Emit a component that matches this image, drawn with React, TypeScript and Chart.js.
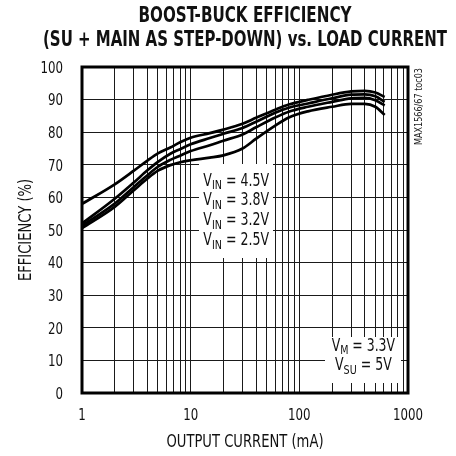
import React, { useEffect, useRef } from "react";
import { Chart, registerables } from "chart.js";

Chart.register(...registerables);

// ---- data ----
const CURRENT_MA = [1, 2, 3, 4, 5, 6.5, 8, 10, 15, 20, 30, 40, 60, 80, 120, 200, 300, 400, 500, 610];
const EFF_A = [58.0, 64.0, 68.2, 71.3, 73.5, 75.3, 76.9, 78.3, 79.7, 80.8, 82.6, 84.4, 86.9, 88.5, 89.9, 91.5, 92.5, 92.7, 92.2, 90.8];
const EFF_B = [52.0, 59.6, 64.6, 68.3, 70.9, 73.4, 74.8, 76.3, 78.2, 79.5, 81.3, 83.2, 86.0, 87.5, 88.8, 90.4, 91.5, 91.6, 91.0, 89.3];
const EFF_C = [51.3, 58.1, 63.2, 66.8, 69.4, 71.5, 72.8, 74.2, 76.0, 77.4, 79.3, 81.5, 84.5, 86.3, 87.8, 89.3, 90.4, 90.5, 89.8, 88.2];
const EFF_D = [50.6, 57.1, 62.2, 65.8, 68.2, 69.9, 70.8, 71.4, 72.2, 72.9, 75.0, 78.0, 82.0, 84.5, 86.4, 87.8, 88.7, 88.7, 87.8, 85.3];

const X_LABELS = [1, 10, 100, 1000];
const Y_TICKS = [0, 10, 20, 30, 40, 50, 60, 70, 80, 90, 100];
const VIN_VALUES = ["4.5V", "3.8V", "3.2V", "2.5V"];
const TITLE_LINES = ["BOOST-BUCK EFFICIENCY", "(SU + MAIN AS STEP-DOWN) vs. LOAD CURRENT"];
const X_TITLE = "OUTPUT CURRENT (mA)";
const Y_TITLE = "EFFICIENCY (%)";
const SIDE_NOTE = "MAX1566/67 toc03";

const NARROW = '"Liberation Sans Narrow", "Arial Narrow", "DejaVu Sans Condensed", sans-serif';
const INK = "#111";
const SQUEEZE = 0.82;

function fitText(ctx: CanvasRenderingContext2D, text: string, cx: number, baseline: number, width: number, font: string) {
  ctx.save();
  ctx.font = font;
  const w = ctx.measureText(text).width;
  ctx.translate(cx, baseline);
  ctx.scale(width / w, 1);
  ctx.textAlign = "center";
  ctx.textBaseline = "alphabetic";
  ctx.fillText(text, 0, 0);
  ctx.restore();
}

function squeezedText(ctx: CanvasRenderingContext2D, text: string, x: number, baseline: number, align: CanvasTextAlign, font: string, k: number) {
  ctx.save();
  ctx.font = font;
  ctx.translate(x, baseline);
  ctx.scale(k, 1);
  ctx.textAlign = align;
  ctx.textBaseline = "alphabetic";
  ctx.fillText(text, 0, 0);
  ctx.restore();
}

function drawSubLabel(ctx: CanvasRenderingContext2D, main: string, sub: string, rest: string, left: number, baseline: number, width: number) {
  const big = "17px " + NARROW;
  const small = "13px " + NARROW;
  ctx.save();
  ctx.font = big;
  const w1 = ctx.measureText(main).width;
  const w3 = ctx.measureText(rest).width;
  ctx.font = small;
  const w2 = ctx.measureText(sub).width;
  const total = w1 + w2 + w3;
  ctx.translate(left, baseline);
  ctx.scale(width / total, 1);
  ctx.textAlign = "left";
  ctx.textBaseline = "alphabetic";
  ctx.font = big;
  ctx.fillText(main, 0, 0);
  ctx.font = small;
  ctx.fillText(sub, w1, 3.5);
  ctx.font = big;
  ctx.fillText(rest, w1 + w2, 0);
  ctx.restore();
}

const overlayPlugin = {
  id: "overlay",
  afterDraw(chart: any) {
    const ctx: CanvasRenderingContext2D = chart.ctx;
    const { left, right, top, bottom } = chart.chartArea;
    const xs = chart.scales.x;
    const ys = chart.scales.y;
    ctx.save();
    ctx.fillStyle = INK;
    // title
    const cx = (left + right) / 2;
    fitText(ctx, TITLE_LINES[0], cx, 21.7, 213, "bold 21px " + NARROW);
    fitText(ctx, TITLE_LINES[1], cx, 45.5, 404, "bold 21px " + NARROW);

    // tick labels through the scales
    const tickFont = "16px " + NARROW;
    Y_TICKS.forEach((v) => {
      squeezedText(ctx, String(v), 63, ys.getPixelForValue(v) + 5.8, "right", tickFont, SQUEEZE);
    });
    X_LABELS.forEach((v) => {
      squeezedText(ctx, String(v), xs.getPixelForValue(v), 420, "center", tickFont, SQUEEZE);
    });

    // axis titles
    const titleFont = "17px " + NARROW;
    ctx.font = titleFont;
    const tk = 157 / ctx.measureText(X_TITLE).width;
    squeezedText(ctx, X_TITLE, cx, 447.3, "center", titleFont, tk);
    ctx.save();
    ctx.translate(31, (top + bottom) / 2);
    ctx.rotate(-Math.PI / 2);
    squeezedText(ctx, Y_TITLE, 0, 0, "center", titleFont, tk);
    ctx.restore();

    // VIN label box
    ctx.fillStyle = "#fff";
    ctx.fillRect(199, 164, 74, 94);
    ctx.fillStyle = INK;
    const baselines = [185.7, 205.2, 225, 245];
    VIN_VALUES.forEach((v, i) => {
      drawSubLabel(ctx, "V", "IN", " = " + v, 203.3, baselines[i], 65.7);
    });

    // VM / VSU box
    ctx.fillStyle = "#fff";
    ctx.fillRect(325, 337, 76, 46);
    ctx.fillStyle = INK;
    drawSubLabel(ctx, "V", "M", " = 3.3V", 331.7, 350.5, 63.3);
    drawSubLabel(ctx, "V", "SU", " = 5V", 335, 370, 56.7);

    // side note
    ctx.save();
    ctx.font = "11px " + NARROW;
    const sw = ctx.measureText(SIDE_NOTE).width;
    ctx.translate(422, 145);
    ctx.rotate(-Math.PI / 2);
    ctx.scale(77 / sw, 1);
    ctx.textAlign = "left";
    ctx.textBaseline = "alphabetic";
    ctx.fillStyle = "#222";
    ctx.fillText(SIDE_NOTE, 0, 0);
    ctx.restore();

    // frame
    ctx.strokeStyle = "#000";
    ctx.lineWidth = 3;
    ctx.strokeRect(left, top, right - left, bottom - top);
    ctx.restore();
  },
};

function makeDataset(data: number[]) {
  return {
    data: CURRENT_MA.map((x, i) => ({ x, y: data[i] })),
    borderColor: "#000",
    borderWidth: 2.7,
    pointRadius: 0,
    fill: false,
    cubicInterpolationMode: "monotone" as const,
  };
}

export default function App() {
  const ref = useRef<HTMLCanvasElement | null>(null);
  useEffect(() => {
    if (!ref.current) return;
    const chart = new Chart(ref.current, {
      type: "line",
      data: {
        datasets: [makeDataset(EFF_A), makeDataset(EFF_B), makeDataset(EFF_C), makeDataset(EFF_D)],
      },
      options: {
        responsive: false,
        animation: false,
        devicePixelRatio: 1,
        layout: { padding: { top: 67, right: 48, bottom: 0, left: 0 } },
        plugins: { legend: { display: false }, tooltip: { enabled: false }, title: { display: false } },
        scales: {
          x: {
            type: "logarithmic",
            min: 1,
            max: 1000,
            afterFit: (s: any) => {
              s.height = 63;
            },
            afterBuildTicks: (s: any) => {
              const t: any[] = [];
              for (let d = 1; d < 1000; d *= 10) {
                for (let k = 1; k < 10; k++) t.push({ value: k * d });
              }
              t.push({ value: 1000 });
              s.ticks = t;
            },
            ticks: { display: false, autoSkip: false },
            grid: { color: "#1a1a1a", lineWidth: 1, drawTicks: false },
            border: { display: false },
          },
          y: {
            min: 0,
            max: 100,
            afterFit: (s: any) => {
              s.width = 82;
            },
            ticks: { display: false, stepSize: 10 },
            grid: { color: "#1a1a1a", lineWidth: 1, drawTicks: false },
            border: { display: false },
          },
        },
      },
      plugins: [overlayPlugin],
    });
    return () => chart.destroy();
  }, []);
  return (
    <div style={{ position: "fixed", left: 0, top: 0, width: 456, height: 456, background: "#fff" }}>
      <canvas ref={ref} width={456} height={456} />
    </div>
  );
}
